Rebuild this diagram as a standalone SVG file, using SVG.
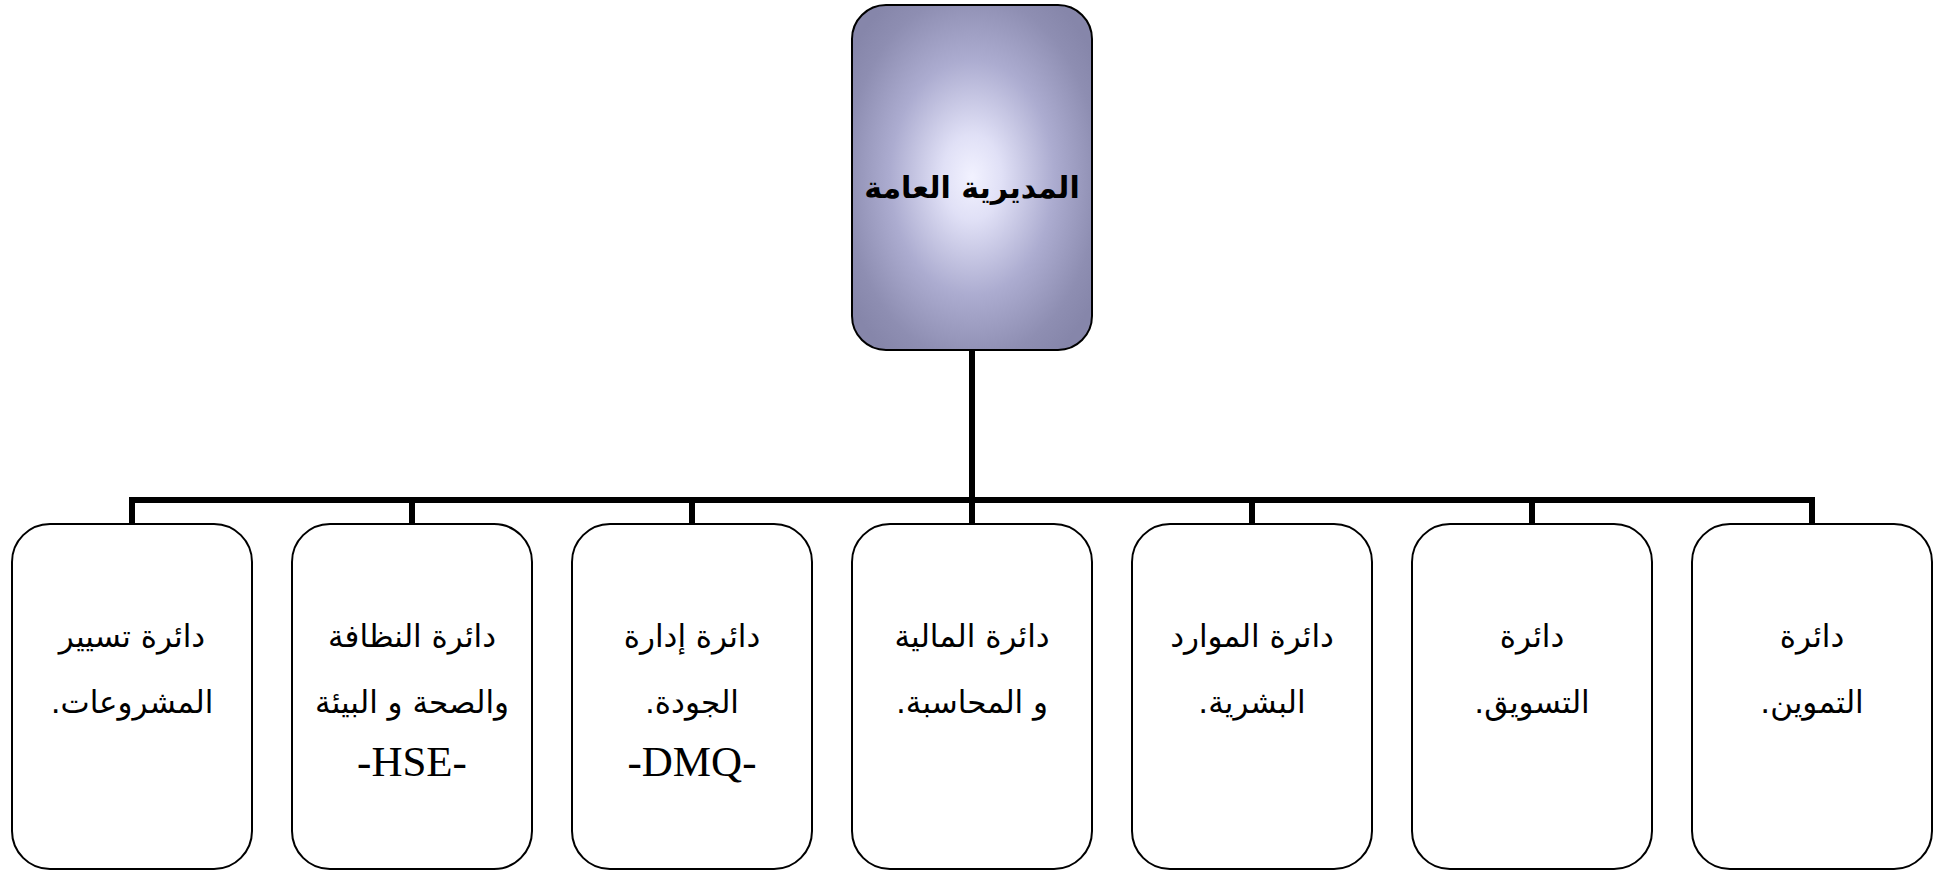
<svg xmlns="http://www.w3.org/2000/svg" width="1937" height="871" viewBox="0 0 1937 871">
  <defs>
    <radialGradient id="topGrad" cx="0.5" cy="0.5" r="0.62">
      <stop offset="0" stop-color="#f2f2ff"/>
      <stop offset="0.2" stop-color="#e0e0f6"/>
      <stop offset="0.55" stop-color="#acacd0"/>
      <stop offset="0.85" stop-color="#8e8eb2"/>
      <stop offset="1" stop-color="#8686aa"/>
    </radialGradient>
    <style>
      .box { fill: #ffffff; stroke: #000000; stroke-width: 2; }
      .top { fill: url(#topGrad); stroke: #000000; stroke-width: 2; }
      .conn { fill: none; stroke: #000000; stroke-width: 6; }
      .ar { font-family: "DejaVu Sans", "Noto Sans", sans-serif; font-size: 31px; fill: #000; text-anchor: middle; }
      .lat { font-family: "Liberation Serif", "Times New Roman", "DejaVu Serif", serif; font-size: 43px; fill: #000; text-anchor: middle; }
      .title { font-family: "DejaVu Sans", "Noto Sans", sans-serif; font-size: 30px; font-weight: bold; fill: #000; text-anchor: middle; }
    </style>
  </defs>
  <rect width="1937" height="871" fill="#ffffff"/>

  <g id="connectors">
    <line class="conn" x1="972" y1="350" x2="972" y2="500"/>
    <polyline class="conn" points="132,524 132,500 1812,500 1812,524"/>
    <line class="conn" x1="412" y1="500" x2="412" y2="524"/>
    <line class="conn" x1="692" y1="500" x2="692" y2="524"/>
    <line class="conn" x1="972" y1="500" x2="972" y2="524"/>
    <line class="conn" x1="1252" y1="500" x2="1252" y2="524"/>
    <line class="conn" x1="1532" y1="500" x2="1532" y2="524"/>
  </g>

  <g id="node-top">
    <rect class="top" x="852" y="5" width="240" height="345" rx="34" ry="34"/>
    <text class="title" x="972" y="198" direction="rtl">المديرية العامة</text>
  </g>

  <g id="node-projects">
    <rect class="box" x="12" y="524" width="240" height="345" rx="38" ry="38"/>
    <text class="ar" x="132" y="647" direction="rtl">دائرة تسيير</text>
    <text class="ar" x="132" y="713" direction="rtl">المشروعات.</text>
  </g>

  <g id="node-hse">
    <rect class="box" x="292" y="524" width="240" height="345" rx="38" ry="38"/>
    <text class="ar" x="412" y="647" direction="rtl">دائرة النظافة</text>
    <text class="ar" x="412" y="713" direction="rtl">والصحة و البيئة</text>
    <text class="lat" x="412" y="776">-HSE-</text>
  </g>

  <g id="node-quality">
    <rect class="box" x="572" y="524" width="240" height="345" rx="38" ry="38"/>
    <text class="ar" x="692" y="647" direction="rtl">دائرة إدارة</text>
    <text class="ar" x="692" y="713" direction="rtl">الجودة.</text>
    <text class="lat" x="692" y="776">-DMQ-</text>
  </g>

  <g id="node-finance">
    <rect class="box" x="852" y="524" width="240" height="345" rx="38" ry="38"/>
    <text class="ar" x="972" y="647" direction="rtl">دائرة المالية</text>
    <text class="ar" x="972" y="713" direction="rtl">و المحاسبة.</text>
  </g>

  <g id="node-hr">
    <rect class="box" x="1132" y="524" width="240" height="345" rx="38" ry="38"/>
    <text class="ar" x="1252" y="647" direction="rtl">دائرة الموارد</text>
    <text class="ar" x="1252" y="713" direction="rtl">البشرية.</text>
  </g>

  <g id="node-marketing">
    <rect class="box" x="1412" y="524" width="240" height="345" rx="38" ry="38"/>
    <text class="ar" x="1532" y="647" direction="rtl">دائرة</text>
    <text class="ar" x="1532" y="713" direction="rtl">التسويق.</text>
  </g>

  <g id="node-supply">
    <rect class="box" x="1692" y="524" width="240" height="345" rx="38" ry="38"/>
    <text class="ar" x="1812" y="647" direction="rtl">دائرة</text>
    <text class="ar" x="1812" y="713" direction="rtl">التموين.</text>
  </g>
</svg>
